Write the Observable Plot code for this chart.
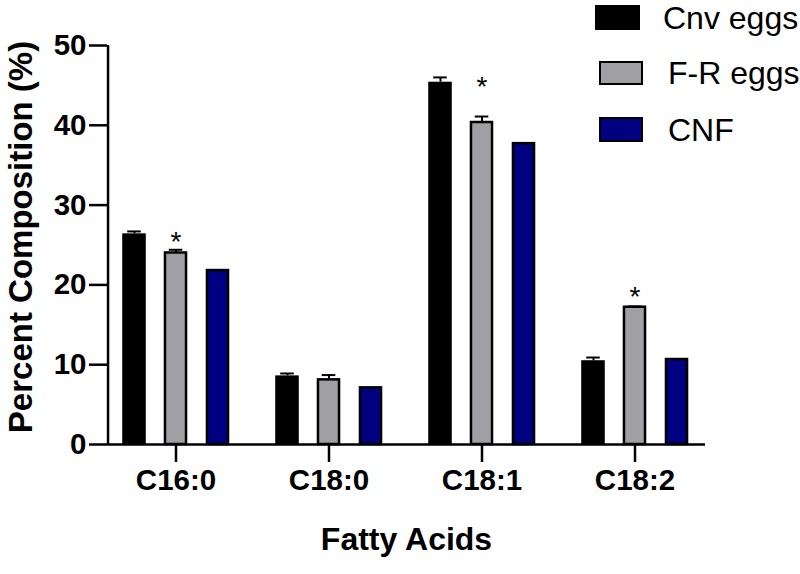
<!DOCTYPE html>
<html><head><meta charset="utf-8">
<script src="https://cdn.jsdelivr.net/npm/d3@7"></script>
<script src="https://cdn.jsdelivr.net/npm/@observablehq/plot@0.6"></script>
<style>
body{margin:0;background:#fff;font-family:"Liberation Sans",Arial,sans-serif;}
#wrap{position:relative;width:800px;height:574px;overflow:hidden;}
.lg-sw{box-sizing:border-box;}
.lg-tx{position:absolute;font-size:32px;line-height:32px;color:#000;white-space:nowrap;}
</style></head><body><div id="wrap"></div>
<script>
// ---- data ----
const categories = ["C16:0", "C18:0", "C18:1", "C18:2"];
const series = ["Cnv eggs", "F-R eggs", "CNF"];
const cnvEggs    = [26.4, 8.6, 45.4, 10.5];
const cnvEggsErr = [0.3, 0.3, 0.6, 0.4];
const frEggs     = [24.0, 8.1, 40.35, 17.2];
const frEggsErr  = [0.4, 0.6, 0.75, 0.1];
const cnf        = [21.8, 7.1, 37.7, 10.65];
const cnfErr     = [0, 0, 0, 0];
const starCategories = ["C16:0", "C18:1", "C18:2"];
const starValues     = [26.0, 45.4, 19.05];
const yTicks = [0, 10, 20, 30, 40, 50];
const colors = ["#000000", "#a0a0a4", "#000080"];
const xTitle = "Fatty Acids";
const yTitle = "Percent Composition (%)";

// ---- build table ----
const values = [cnvEggs, frEggs, cnf];
const errors = [cnvEggsErr, frEggsErr, cnfErr];
const rows = [];
series.forEach((s, k) => categories.forEach((c, i) => rows.push({category: c, series: s, k, value: values[k][i], err: errors[k][i]})));
const stars = starCategories.map((c, i) => ({category: c, value: starValues[i]}));

// ---- layout ----
const W = 800, H = 574;
const mL = 107, mR = 95, mT = 45, mB = 130;
const xRange = [98.25, 712];
const step = (xRange[1] - xRange[0]) / categories.length;
const offsets = [-41.5, 0, 42];
const barW = [24, 21.5, 21.5];
const capW = 14;

const marks = [];
series.forEach((s, k) => {
  const data = rows.filter(d => d.k === k);
  const inset = (step - barW[k]) / 2;
  marks.push(Plot.barY(data, {
    x: "category", y: "value", fill: colors[k],
    stroke: k ? "#000" : "none", strokeWidth: 2.5,
    insetLeft: inset, insetRight: inset, dx: offsets[k]
  }));
  const ed = data.filter(d => d.err > 0);
  marks.push(Plot.ruleX(ed, {x: "category", y1: "value", y2: d => d.value + d.err, dx: offsets[k], stroke: "#000", strokeWidth: 2}));
  marks.push(Plot.tickY(ed, {x: "category", y: d => d.value + d.err, dx: offsets[k], stroke: "#000", strokeWidth: 2,
    insetLeft: (step - capW) / 2, insetRight: (step - capW) / 2}));
});
marks.push(Plot.text(stars, {x: "category", y: "value", text: () => "*", fontSize: 28, dy: 5, fill: "#000"}));
marks.push(Plot.ruleY([0], {stroke: "#000", strokeWidth: 2.5}));
marks.push(Plot.ruleX([categories[0]], {y1: 0, y2: 50, dx: mL - (xRange[0] + step / 2), stroke: "#000", strokeWidth: 2.5}));
marks.push(Plot.axisY({ticks: yTicks, tickSize: 18, tickPadding: 3, fontSize: 29.5, fontWeight: "bold", strokeWidth: 2.5, label: null}));
marks.push(Plot.axisX({tickSize: 18, tickPadding: 7, fontSize: 29.5, fontWeight: "bold", strokeWidth: 2.5, label: null}));
marks.push(Plot.text([xTitle], {frameAnchor: "bottom", text: d => d, dy: 105, fontSize: 32, fontWeight: "bold", fill: "#000"}));
marks.push(Plot.text([yTitle], {frameAnchor: "left", textAnchor: "middle", text: d => d, rotate: -90, dx: -86, dy: -8, fontSize: 33, fontWeight: "bold", fill: "#000"}));

const chart = Plot.plot({
  width: W, height: H,
  marginLeft: mL, marginRight: mR, marginTop: mT, marginBottom: mB,
  style: {fontFamily: "'Liberation Sans', Arial, sans-serif", color: "#000", background: "#fff", overflow: "visible"},
  x: {type: "band", domain: categories, range: xRange, padding: 0, axis: null},
  y: {domain: [0, 50], axis: null},
  marks
});
const wrap = document.getElementById("wrap");
wrap.appendChild(chart);

// ---- legend (HTML overlay) ----
const lgSwatch = [{l: 595, t: 5, w: 45, h: 25}, {l: 599, t: 61, w: 44, h: 24}, {l: 599, t: 117, w: 44, h: 25}];
const lgText = [663, 668, 668];
series.forEach((s, k) => {
  const g = lgSwatch[k];
  const sw = document.createElement("div");
  sw.className = "lg-sw";
  Object.assign(sw.style, {position: "absolute", left: g.l + "px", top: g.t + "px", width: g.w + "px", height: g.h + "px",
    background: colors[k], border: k ? "2.5px solid #000" : "none"});
  wrap.appendChild(sw);
  const tx = document.createElement("div");
  tx.className = "lg-tx";
  tx.textContent = s;
  Object.assign(tx.style, {left: lgText[k] + "px", top: (g.t + g.h / 2 - 16) + "px"});
  wrap.appendChild(tx);
});
</script></body></html>
